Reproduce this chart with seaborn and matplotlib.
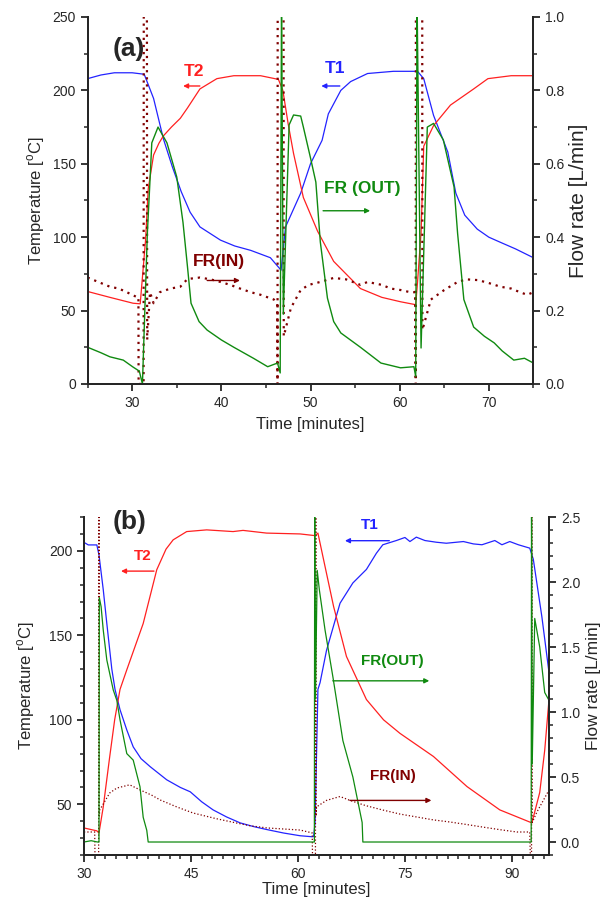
import numpy as np
import pandas as pd
import matplotlib
matplotlib.use("Agg")
import matplotlib.pyplot as plt
import seaborn as sns
from matplotlib.ticker import MultipleLocator, FormatStrFormatter

# =========================================================================
# 데이터
# =========================================================================
# ---- (a) ----
a_t1_x = [25, 26.5, 28, 30, 31.35, 32.4, 33.5, 34.5, 35.5, 36.5, 37.6, 39.9, 41.5, 43.3, 45.5, 46.7,
          47.2, 48.9, 50.0, 51.3, 52.0, 53.4, 54.5, 56.4, 59.3, 62.0, 62.7, 63.8, 65.4, 66.3, 67.3,
          68.7, 70.0, 71.3, 73.0, 75.0]
a_t1_y = [208, 210.5, 212, 212, 211, 194.5, 167, 148, 131, 117, 107, 98, 94, 91, 86, 77.5,
          107, 130, 150, 166, 184, 200, 206, 211.5, 213, 213, 208, 183, 158, 130, 115,
          105.5, 100, 96.5, 92, 86]

a_t2_x = [25, 27.5, 30.1, 30.9, 31.5, 31.8, 32.4, 33.0, 33.5, 34.4, 35.4, 36.2, 36.9, 37.6, 39.5,
          41.4, 44.4, 46.4, 46.9, 47.5, 48.1, 49.2, 50.8, 52.6, 55.6, 58.0, 60.1, 61.8, 62.0, 62.4,
          62.7, 63.8, 65.7, 68.3, 69.9, 72.5, 75.0]
a_t2_y = [63, 59, 55, 54.6, 98, 133, 156, 164, 169, 175, 181, 188, 194.5, 201, 208,
          210, 210, 207.5, 200, 177, 157, 127, 104, 83.5, 65, 59, 56, 54, 69, 103,
          162, 176, 190, 201, 208, 210, 210]

a_out_x = [25, 26.5, 27.5, 29, 30.1, 30.8, 31.15, 31.7, 32.0, 32.2, 32.9, 33.9, 35.0, 35.7, 36.2,
           36.6, 37.5, 38.4, 40, 41.4, 42.5, 43.6, 45.2, 46.3, 46.6, 46.75, 46.95, 47.6, 48.1, 48.9,
           49.2, 50.0, 50.6, 51.1, 51.9, 52.6, 53.4, 55.6, 57.9, 60.1, 61.6, 61.8, 61.95, 62.4, 63.1,
           63.8, 64.9, 66.1, 66.5, 67.2, 68.3, 69.5, 70.6, 71.5, 72.8, 74, 75.0]
a_out_y = [0.10, 0.085, 0.074, 0.065, 0.046, 0.035, 0.0, 0.41, 0.556, 0.657, 0.70, 0.657, 0.564, 0.44, 0.32,
           0.22, 0.17, 0.147, 0.12, 0.10, 0.085, 0.07, 0.047, 0.057, 0.03, 1.05, 0.19, 0.706, 0.733, 0.73,
           0.70, 0.616, 0.55, 0.387, 0.234, 0.17, 0.139, 0.10, 0.057, 0.044, 0.047, 0.02, 1.05, 0.098, 0.70,
           0.71, 0.665, 0.537, 0.41, 0.23, 0.155, 0.13, 0.112, 0.09, 0.065, 0.07, 0.057]

a_in_x = [25, 26.5, 27.5, 28.5, 29.4, 30.5, 30.7, 30.72, 31.28, 31.3, 31.65, 31.68, 32.0, 32.4, 33.1,
          34.3, 35.4, 36.2, 37.6, 38.8, 39.9, 41.0, 42.1, 43.3, 44.4, 45.9, 46.28, 46.3, 46.32, 46.98,
          47.0, 47.8, 48.9, 49.8, 51.1, 52.6, 54.0, 55.6, 56.4, 58.0, 59.0, 60.1, 61.2, 61.75, 61.8,
          61.82, 62.53, 62.55, 63.5, 65.0, 66.5, 67.5, 68.8, 70.0, 71.3, 72.5, 73.5, 74.3, 75.0]
a_in_y = [0.29, 0.275, 0.265, 0.26, 0.25, 0.237, 0.237, 0.0, 0.0, 1.05, 1.05, 0.12, 0.25, 0.22, 0.25,
          0.26, 0.265, 0.286, 0.29, 0.285, 0.278, 0.27, 0.26, 0.25, 0.243, 0.23, 0.22, 0.0, 1.05, 1.05,
          0.13, 0.207, 0.256, 0.27, 0.278, 0.289, 0.285, 0.27, 0.278, 0.27, 0.26, 0.256, 0.25, 0.25, 0.0,
          1.05, 1.05, 0.147, 0.23, 0.256, 0.278, 0.285, 0.283, 0.275, 0.265, 0.26, 0.25, 0.243, 0.25]

# ---- (b) ----
b_t1_x = [30, 30.6, 31.8, 32.1, 32.7, 33.2, 33.9, 34.35, 35.05, 36.0, 36.9, 38, 39.3, 41.6, 43.5,
          44.9, 46.5, 48.1, 50, 51.9, 53.8, 55.7, 58, 60.3, 62.0, 62.2, 62.4, 62.8, 63.1, 64.0,
          65.9, 67.7, 69.6, 71.0, 71.9, 73.8, 75.0, 75.7, 76.6, 77.8, 79.4, 80.8, 83.2, 84.6, 85.8,
          87.6, 88.6, 89.7, 90.9, 92.5, 93.0, 94.2, 95.2]
b_t1_y = [205, 203.5, 203.5, 197.6, 177, 157, 130, 118, 106, 94, 84, 77, 72.2, 64.5, 60,
          57.4, 51.5, 46.7, 42.5, 39, 36.8, 35, 33, 31.4, 30.8, 31, 39, 118, 122, 141,
          169, 181, 189, 198.6, 203.6, 206.1, 207.9, 205.5, 208.1, 206.1, 205.1, 204.5, 205.5, 204.1, 203.6,
          206.1, 203.6, 205.5, 203.6, 201.6, 195, 161, 128]

b_t2_x = [30, 31.8, 32.1, 32.7, 33.6, 34.3, 35.05, 36.0, 38.3, 40.2, 41.5, 42.5, 44.4, 47.2, 50.9,
          52.3, 55.6, 60.3, 62.4, 62.8, 63.5, 65.0, 66.8, 69.6, 72.0, 74.3, 79.0, 83.7, 88.3, 92.8,
          93.9, 94.6, 95.2]
b_t2_y = [36, 34.3, 33, 48.5, 78, 100, 118, 129.6, 157, 188.8, 201, 206.5, 211.4, 212.4, 211.4,
          212.1, 210.5, 210, 209, 210.5, 196.6, 167, 137.5, 112, 100, 92, 78.3, 60.5, 46.7, 39,
          57, 82, 112]

b_out_x = [30, 31, 31.9, 32.1, 32.15, 32.4, 32.7, 33.2, 34.1, 34.6, 35.05, 36.0, 36.9, 37.85, 38.3,
           38.8, 39.0, 45, 55, 62.3, 62.35, 62.45, 62.7, 63.0, 63.8, 64.9, 66.3, 67.7, 69.0, 69.1,
           80, 92.7, 92.75, 92.85, 93.2, 93.9, 94.6, 95.2]
b_out_y = [0.0, 0.01, 0.0, 0.0, 1.88, 1.81, 1.63, 1.40, 1.17, 1.09, 0.94, 0.68, 0.63, 0.425, 0.19,
           0.09, 0.0, 0.0, 0.0, 0.0, 2.6, 1.1, 2.09, 1.94, 1.63, 1.27, 0.78, 0.50, 0.15, 0.0,
           0.0, 0.0, 2.6, 0.6, 1.72, 1.5, 1.15, 1.09]

b_in_x = [30, 31.5, 31.55, 32.05, 32.1, 32.15, 32.2, 33.6, 34.6, 36.4, 37.9, 39.5, 40.7, 43.0, 45.3,
          48.5, 51.4, 53.3, 55.7, 58, 60.3, 62.0, 62.05, 62.45, 62.5, 62.55, 62.6, 64, 65.9, 67.3,
          69.5, 71.9, 74.3, 76.7, 79, 81.3, 83.6, 85.9, 88.3, 90.7, 92.5, 92.6, 92.75, 92.8, 92.85,
          93.5, 94.4, 95.2]
b_in_y = [0.077, 0.077, -0.15, -0.15, 2.6, 0.2, 0.246, 0.377, 0.415, 0.44, 0.40, 0.36, 0.323, 0.27, 0.223,
          0.18, 0.146, 0.125, 0.108, 0.10, 0.092, 0.07, -0.15, -0.15, 2.6, 0.2, 0.27, 0.32, 0.35, 0.32,
          0.28, 0.246, 0.215, 0.192, 0.17, 0.154, 0.135, 0.115, 0.095, 0.077, 0.077, -0.15, -0.15, 2.6, 0.15,
          0.23, 0.32, 0.4]

C_T1 = "#2323ff"
C_T2 = "#ff2020"
C_OUT = "#108a10"
C_IN = "#800000"

# =========================================================================
# 스타일
# =========================================================================
sns.set_style("ticks")
plt.rcParams['font.family'] = ['Liberation Sans', 'DejaVu Sans']
plt.rcParams['mathtext.fontset'] = 'custom'
plt.rcParams['mathtext.rm'] = 'Liberation Sans'
plt.rcParams['axes.linewidth'] = 1.4
plt.rcParams['xtick.major.width'] = 1.3
plt.rcParams['ytick.major.width'] = 1.3
plt.rcParams['xtick.minor.width'] = 1.1
plt.rcParams['ytick.minor.width'] = 1.1
plt.rcParams['xtick.major.size'] = 5
plt.rcParams['ytick.major.size'] = 5
plt.rcParams['xtick.minor.size'] = 3
plt.rcParams['ytick.minor.size'] = 3
plt.rcParams['xtick.labelsize'] = 10
plt.rcParams['ytick.labelsize'] = 10


def line(ax, xs, ys, color, lw, ls='-'):
    df = pd.DataFrame({'t': xs, 'v': ys})
    sns.lineplot(data=df, x='t', y='v', ax=ax, color=color, linewidth=lw, linestyle=ls,
                 sort=False, estimator=None, legend=False)


def note(ax, text, color, tx, ty, ax0, ax1, ay, size):
    ax.text(tx, ty, text, color=color, fontsize=size, fontweight='bold', ha='center', va='center')
    ax.annotate('', xy=(ax1, ay), xytext=(ax0, ay),
                arrowprops=dict(arrowstyle='-|>', color=color, lw=1.0, mutation_scale=7))


def finish(ax, ax2):
    ax.spines['top'].set_visible(False)
    ax2.spines['top'].set_visible(False)
    ax.set_xlabel("Time [minutes]", fontsize=12)
    ax.set_ylabel(r"Temperature [$^\mathrm{o}$C]", fontsize=12)
    ax2.yaxis.set_major_formatter(FormatStrFormatter('%.1f'))


fig = plt.figure(figsize=(6.0, 9.09), dpi=100)

# =========================================================================
# (a)
# =========================================================================
ax = fig.add_axes([0.146, 0.5776, 0.743, 0.4037])
ax2 = ax.twinx()
line(ax, a_t1_x, a_t1_y, C_T1, 0.9)
line(ax, a_t2_x, a_t2_y, C_T2, 0.9)
line(ax2, a_in_x, a_in_y, C_IN, 1.6, (0, (1, 2.2)))
line(ax2, a_out_x, a_out_y, C_OUT, 1.0)
ax.set_xlim(25, 75)
ax.set_ylim(0, 250)
ax2.set_ylim(0, 1.0)
ax.xaxis.set_major_locator(MultipleLocator(10))
ax.xaxis.set_minor_locator(MultipleLocator(5))
ax.yaxis.set_major_locator(MultipleLocator(50))
ax.yaxis.set_minor_locator(MultipleLocator(25))
ax2.yaxis.set_major_locator(MultipleLocator(0.2))
ax2.yaxis.set_minor_locator(MultipleLocator(0.1))
finish(ax, ax2)
ax2.set_ylabel("Flow rate [L/min]", fontsize=15)
ax.yaxis.set_label_coords(-0.091, 0.5)
ax2.yaxis.set_label_coords(1.08, 0.5)
ax.xaxis.set_label_coords(0.5, -0.09)

ax.text(29.6, 228, "(a)", fontsize=19, fontweight='bold', ha='center', va='center')
note(ax, "T2", C_T2, 36.9, 213, 37.9, 35.4, 203, 12.5)
note(ax, "T1", C_T1, 52.8, 215, 53.6, 50.9, 203, 12.5)
note(ax, "FR (OUT)", C_OUT, 55.8, 133, 51.1, 57.0, 118, 12.5)
note(ax, "FR(IN)", C_IN, 39.7, 83.5, 38.1, 42.4, 70.5, 12.5)

# =========================================================================
# (b)
# =========================================================================
bx = fig.add_axes([0.14, 0.0594, 0.775, 0.3718])
bx2 = bx.twinx()
line(bx, b_t1_x, b_t1_y, C_T1, 0.9)
line(bx, b_t2_x, b_t2_y, C_T2, 0.9)
line(bx2, b_in_x, b_in_y, C_IN, 0.9, ':')
line(bx2, b_out_x, b_out_y, C_OUT, 0.9)
bx.set_xlim(30, 95.2)
bx.set_ylim(20, 220)
bx2.set_ylim(-0.1, 2.5)
bx.xaxis.set_major_locator(MultipleLocator(15))
bx.xaxis.set_minor_locator(MultipleLocator(1.5))
bx.yaxis.set_major_locator(MultipleLocator(50))
bx.yaxis.set_minor_locator(MultipleLocator(10))
bx2.yaxis.set_major_locator(MultipleLocator(0.5))
bx2.yaxis.set_minor_locator(MultipleLocator(0.1))
finish(bx, bx2)
bx2.set_ylabel("Flow rate [L/min]", fontsize=12.5)
bx.yaxis.set_label_coords(-0.101, 0.5)
bx2.yaxis.set_label_coords(1.079, 0.5)
bx.xaxis.set_label_coords(0.5, -0.08)

bx.text(36.4, 217, "(b)", fontsize=19, fontweight='bold', ha='center', va='center')
note(bx, "T2", C_T2, 38.3, 197, 40.2, 34.8, 188, 11)
note(bx, "T1", C_T1, 70.0, 215.4, 73.2, 66.2, 206, 11)
note(bx2, "FR(OUT)", C_OUT, 73.3, 1.39, 64.5, 78.8, 1.24, 11)
note(bx2, "FR(IN)", C_IN, 73.3, 0.51, 66.9, 79.1, 0.32, 11)

fig.savefig("out.png", dpi=100)
